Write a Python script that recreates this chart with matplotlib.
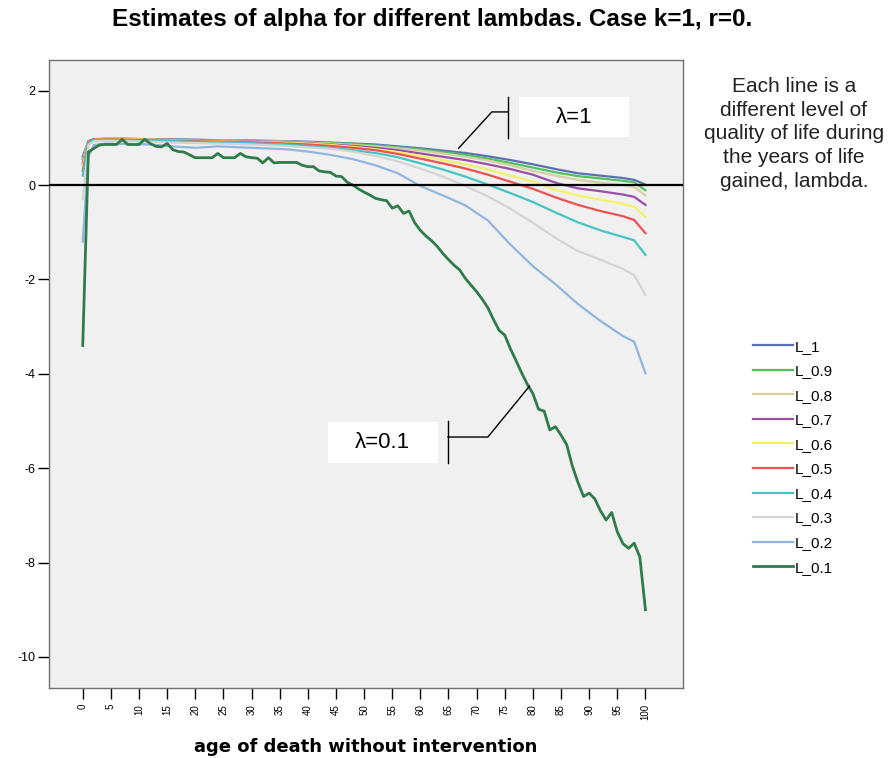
import matplotlib
matplotlib.use("Agg")
import matplotlib.pyplot as plt
import numpy as np

plt.rcParams['font.family'] = ['Liberation Sans', 'DejaVu Sans']

# ages for the lambda lines (0.2 .. 1)
ages = [0, 1, 2, 4, 8, 12, 16, 20, 24, 28, 32, 36, 40, 44, 48, 52, 56, 60,
        64, 68, 72, 76, 80, 84, 88, 92, 96, 98, 100]

L_1 = [0.6, 0.93, 0.97, 0.98, 0.98, 0.97, 0.97, 0.96, 0.95, 0.95, 0.94, 0.93, 0.92, 0.9, 0.88,
       0.86, 0.82, 0.78, 0.73, 0.68, 0.61, 0.53, 0.44, 0.34, 0.25, 0.2, 0.15, 0.11, 0.01]
L_09 = [0.55, 0.93, 0.97, 0.98, 0.98, 0.97, 0.96, 0.96, 0.95, 0.94, 0.93, 0.92, 0.91, 0.89, 0.87,
        0.84, 0.8, 0.76, 0.7, 0.64, 0.56, 0.47, 0.37, 0.27, 0.19, 0.14, 0.09, 0.06, -0.11]
L_08 = [0.5, 0.94, 0.97, 0.98, 0.97, 0.97, 0.96, 0.95, 0.95, 0.94, 0.93, 0.92, 0.9, 0.88, 0.85,
        0.82, 0.78, 0.73, 0.67, 0.6, 0.52, 0.42, 0.3, 0.2, 0.11, 0.05, 0.0, -0.04, -0.22]
L_07 = [0.45, 0.93, 0.97, 0.97, 0.97, 0.96, 0.96, 0.95, 0.94, 0.93, 0.92, 0.91, 0.89, 0.86, 0.83,
        0.79, 0.74, 0.67, 0.6, 0.53, 0.44, 0.34, 0.22, 0.05, -0.07, -0.13, -0.2, -0.25, -0.42]
L_06 = [0.4, 0.92, 0.96, 0.97, 0.97, 0.96, 0.95, 0.94, 0.93, 0.92, 0.91, 0.9, 0.88, 0.85, 0.81,
        0.76, 0.7, 0.62, 0.53, 0.44, 0.33, 0.2, 0.08, -0.1, -0.22, -0.31, -0.4, -0.46, -0.67]
L_05 = [0.3, 0.92, 0.96, 0.97, 0.96, 0.95, 0.94, 0.93, 0.92, 0.91, 0.9, 0.88, 0.86, 0.83, 0.79,
        0.74, 0.66, 0.56, 0.46, 0.35, 0.22, 0.07, -0.08, -0.26, -0.42, -0.55, -0.66, -0.74, -1.02]
L_04 = [0.2, 0.9, 0.95, 0.96, 0.95, 0.94, 0.93, 0.92, 0.91, 0.9, 0.88, 0.86, 0.83, 0.79, 0.74,
        0.68, 0.59, 0.46, 0.33, 0.18, 0.01, -0.17, -0.36, -0.58, -0.79, -0.96, -1.1, -1.17, -1.48]
L_03 = [-0.3, 0.85, 0.93, 0.94, 0.93, 0.92, 0.9, 0.89, 0.88, 0.87, 0.85, 0.83, 0.8, 0.77, 0.71,
        0.62, 0.5, 0.35, 0.18, -0.02, -0.24, -0.5, -0.8, -1.12, -1.4, -1.58, -1.78, -1.91, -2.33]
L_02 = [-1.2, 0.6, 0.85, 0.88, 0.87, 0.86, 0.82, 0.79, 0.82, 0.8, 0.78, 0.76, 0.71, 0.64, 0.55,
        0.42, 0.25, -0.02, -0.22, -0.43, -0.75, -1.26, -1.72, -2.1, -2.52, -2.88, -3.2, -3.32, -3.99]

# lambda = 0.1 is read year by year
ages_01 = list(range(101))
L_01 = [-3.4, 0.7, 0.78, 0.85, 0.86, 0.86, 0.86, 0.97, 0.86, 0.86,
        0.86, 0.97, 0.88, 0.82, 0.81, 0.88, 0.75, 0.71, 0.7, 0.64,
        0.58, 0.58, 0.58, 0.58, 0.67, 0.58, 0.58, 0.58, 0.67, 0.6,
        0.58, 0.57, 0.47, 0.58, 0.47, 0.48, 0.48, 0.48, 0.48, 0.42,
        0.39, 0.39, 0.3, 0.28, 0.27, 0.19, 0.18, 0.06, 0.0, -0.08,
        -0.15, -0.21, -0.28, -0.31, -0.33, -0.49, -0.44, -0.6, -0.55, -0.8,
        -0.96, -1.08, -1.18, -1.3, -1.45, -1.58, -1.7, -1.8, -1.98, -2.12,
        -2.26, -2.42, -2.6, -2.85, -3.08, -3.18, -3.47, -3.72, -3.98, -4.22,
        -4.42, -4.75, -4.79, -5.19, -5.12, -5.3, -5.5, -5.95, -6.3, -6.6,
        -6.53, -6.65, -6.9, -7.1, -6.94, -7.35, -7.6, -7.7, -7.59, -7.88,
        -9.0]

labels = ['L_1', 'L_0.9', 'L_0.8', 'L_0.7', 'L_0.6', 'L_0.5', 'L_0.4', 'L_0.3', 'L_0.2', 'L_0.1']
series = [L_1, L_09, L_08, L_07, L_06, L_05, L_04, L_03, L_02, L_01]
colors = ['#5b6fb8', '#4cc45a', '#d6cfa2', '#9a4fa8', '#f4f06a',
          '#f05050', '#44c4c4', '#d4d4d4', '#90b6e0', '#2f7b4a']

fig = plt.figure(figsize=(8.89, 7.58), dpi=100)
ax = fig.add_axes([0.0551, 0.0923, 0.7127, 0.8285])
ax.set_facecolor('#f0f0f0')

lines = []
for lab, vals, c in zip(labels, series, colors):
    xs = ages_01 if lab == 'L_0.1' else ages
    lw = 2.0 if lab == 'L_0.1' else 1.6
    ln, = ax.plot(xs, vals, color=c, lw=lw, label=lab)
    lines.append(ln)

ax.axhline(0, color='black', lw=1.6, zorder=5)

ax.set_xlim(-6.0, 106.6)
ax.set_ylim(-10.66, 2.65)
ax.set_xticks(np.arange(0, 101, 5))
ax.set_xticklabels([str(t) for t in range(0, 101, 5)], rotation=90, fontsize=7)
ax.set_yticks([2, 0, -2, -4, -6, -8, -10])
ax.set_yticklabels(['2', '0', '-2', '-4', '-6', '-8', '-10'], fontsize=9)
ax.tick_params(axis='x', length=8, width=1, direction='out')
ax.tick_params(axis='y', length=8, width=1, direction='out', pad=2)
for s in ax.spines.values():
    s.set_color('#707070')
    s.set_linewidth(1)

ax.set_xlabel('age of death without intervention', fontsize=13, fontweight='bold',
              family='DejaVu Sans', labelpad=13)
fig.text(0.486, 0.974, 'Estimates of alpha for different lambdas. Case k=1, r=0.',
         ha='center', va='center', fontsize=17.5, fontweight='bold')

fig.text(0.893, 0.899, 'Each line is a\ndifferent level of\nquality of life during\nthe years of life\ngained, lambda.',
         ha='center', va='top', fontsize=15, linespacing=1.33, color='#222222')

fig.legend(lines, labels, loc='upper left', bbox_to_anchor=(0.8384, 0.562),
           frameon=False, fontsize=11, handlelength=2.6, handletextpad=0.12,
           labelspacing=0.69, borderpad=0)

# callout for lambda=1
ax.add_patch(plt.Rectangle((77.5, 1.02), 19.6, 0.84, facecolor='white', edgecolor='none', zorder=6))
ax.text(87.3, 1.44, 'λ=1', ha='center', va='center', fontsize=16, zorder=7)
ax.plot([75.5, 75.5], [1.0, 1.86], color='black', lw=1, zorder=7)
ax.plot([66.8, 72.7, 75.5], [0.78, 1.55, 1.55], color='black', lw=1, zorder=7)

# callout for lambda=0.1
ax.add_patch(plt.Rectangle((43.5, -5.89), 19.6, 0.87, facecolor='white', edgecolor='none', zorder=6))
ax.text(53.3, -5.45, 'λ=0.1', ha='center', va='center', fontsize=16, zorder=7)
ax.plot([64.9, 64.9], [-5.0, -5.89], color='black', lw=1, zorder=7)
ax.plot([64.9, 72.0, 79.4], [-5.34, -5.34, -4.26], color='black', lw=1, zorder=7)

fig.savefig('out.png', dpi=100)
